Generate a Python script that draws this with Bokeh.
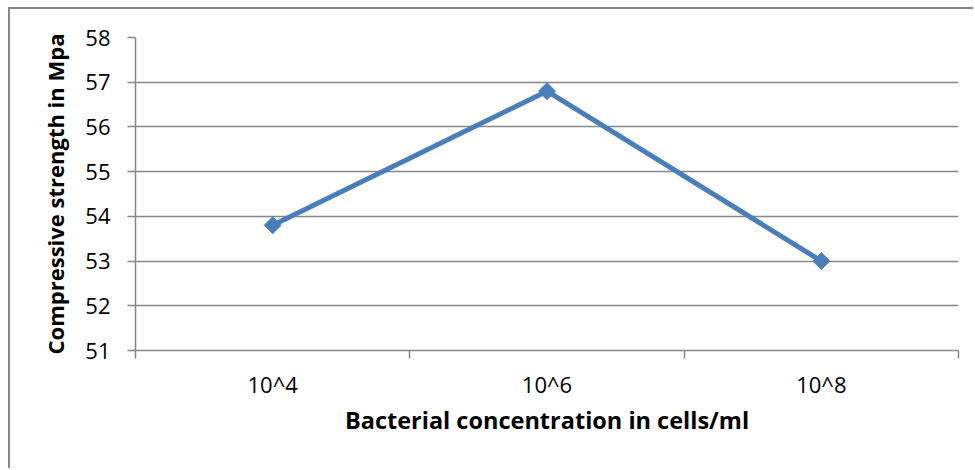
import math

from bokeh.plotting import figure
from bokeh.models import Range1d, LinearAxis, FixedTicker
from bokeh.embed import file_html
from bokeh.resources import INLINE

# Compressive strength for each bacterial concentration
concentrations = ["10^4", "10^6", "10^8"]
strength_mpa = [53.8, 56.8, 53.0]
y_ticks = [51, 52, 53, 54, 55, 56, 57, 58]

GRAY = "#878787"
BLUE = "#4a7ebb"
FONT = "Open Sans"

# each category occupies one unit slot; points sit in the middle of their slot
n = len(concentrations)
slot_centers = [i + 0.5 for i in range(n)]
slot_edges = list(range(n + 1))

p = figure(
    width=965, height=461,
    x_range=Range1d(0, n),
    y_range=Range1d(y_ticks[0], y_ticks[-1]),
    x_axis_type=None,
    output_backend="svg", toolbar_location=None,
    min_border_left=125, min_border_right=17,
    min_border_top=28, min_border_bottom=120,
)
p.outline_line_color = None
p.background_fill_color = "white"
p.border_fill_color = "white"

# chart-area frame (top and left edges visible)
p.styles = {"border-top": f"2px solid {GRAY}", "border-left": f"2px solid {GRAY}"}
p.margin = (7, 0, 0, 8)

# value axis
yax = p.yaxis[0]
yax.ticker = FixedTicker(ticks=y_ticks)
yax.axis_line_color = GRAY
yax.axis_line_width = 1.5
yax.major_tick_line_color = GRAY
yax.major_tick_line_width = 1.5
yax.major_tick_out = 8
yax.major_tick_in = 0
yax.minor_tick_line_color = None
yax.major_label_text_font = FONT
yax.major_label_text_font_size = "22px"
yax.major_label_text_color = "black"
yax.major_label_standoff = 17
yax.axis_label = "Compressive strength in Mpa"
yax.axis_label_text_font = FONT
yax.axis_label_text_font_style = "bold"
yax.axis_label_text_font_size = "22px"
yax.axis_label_text_color = "black"
yax.axis_label_standoff = 12

p.ygrid.ticker = FixedTicker(ticks=y_ticks)
p.ygrid.grid_line_color = GRAY
p.ygrid.grid_line_width = 1.5
p.xgrid.grid_line_color = None

# category boundaries: tick marks between categories
edge_axis = LinearAxis(
    ticker=FixedTicker(ticks=slot_edges),
    major_tick_out=8, major_tick_in=0,
    major_tick_line_color=GRAY, major_tick_line_width=1.5,
    minor_tick_line_color=None,
    axis_line_color=GRAY, axis_line_width=1.5,
    major_label_text_font_size="0px",
    major_label_overrides={e: "" for e in slot_edges},
    major_label_standoff=0,
)
p.add_layout(edge_axis, "below")

# category labels and axis title
cat_axis = LinearAxis(
    ticker=FixedTicker(ticks=slot_centers),
    major_label_overrides=dict(zip(slot_centers, concentrations)),
    axis_line_color=None,
    major_tick_line_color=None,
    minor_tick_line_color=None,
    major_label_text_font=FONT,
    major_label_text_font_size="22px",
    major_label_text_color="black",
    major_label_standoff=4,
    axis_label="Bacterial concentration in cells/ml",
    axis_label_text_font=FONT,
    axis_label_text_font_style="bold",
    axis_label_text_font_size="23.5px",
    axis_label_text_color="black",
    axis_label_standoff=2,
)
p.add_layout(cat_axis, "below")

# series
p.line(slot_centers, strength_mpa, line_color=BLUE, line_width=5)
p.scatter(slot_centers, strength_mpa, marker="square", angle=math.pi / 4,
          size=12, fill_color=BLUE, line_color=BLUE)

open("out.html", "w").write(file_html(p, INLINE))
